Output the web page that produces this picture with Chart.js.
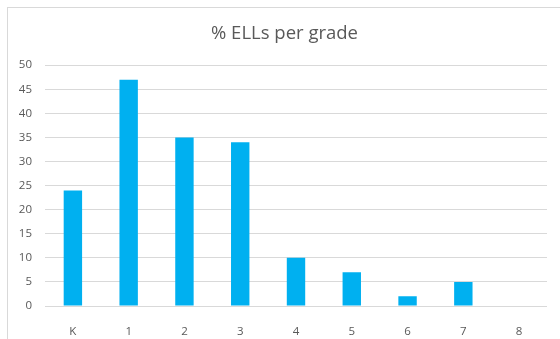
<!DOCTYPE html>
<html>
<head>
<meta charset="utf-8">
<script src="https://cdn.jsdelivr.net/npm/chart.js@4/dist/chart.umd.min.js"></script>
<style>
  html, body { margin: 0; padding: 0; background: #fff; }
  #wrap { position: relative; width: 560px; height: 339px; }
  #frame {
    position: absolute; left: 7px; top: 7px; right: -10px; bottom: -10px;
    border-top: 1px solid #d9d9d9; border-left: 1px solid #d9d9d9;
  }
  canvas { position: absolute; left: 0; top: 0; }
</style>
</head>
<body>
<div id="wrap">
  <div id="frame"></div>
  <canvas id="grades" width="560" height="339"></canvas>
</div>
<script>
// Grade levels and share of ELL students in each
var grades = ["K", "1", "2", "3", "4", "5", "6", "7", "8"];
var ellPercent = [24, 47, 35, 34, 10, 7, 2, 5, 0];
var yTicks = [0, 5, 10, 15, 20, 25, 30, 35, 40, 45, 50];

var textGray = "#595959";
var fontFamily = "'Open Sans', 'Noto Sans', sans-serif";

// centre the title over the whole frame rather than the layout box
var titleShift = {
  id: "titleShift",
  afterLayout: function (chart) {
    if (chart.titleBlock) {
      chart.titleBlock.left += 11;
      chart.titleBlock.right += 11;
    }
  }
};

var ctx = document.getElementById("grades");
var gradeChart = new Chart(ctx, {
  type: "bar",
  data: {
    labels: grades,
    datasets: [{
      label: "% ELLs",
      data: ellPercent,
      backgroundColor: "#00b0f0",
      borderWidth: 0,
      barPercentage: 0.33,
      categoryPercentage: 1
    }]
  },
  plugins: [titleShift],
  options: {
    responsive: false,
    animation: false,
    layout: { padding: { left: 0, right: 13, top: 0, bottom: 0 } },
    plugins: {
      legend: { display: false },
      tooltip: { enabled: false },
      title: {
        display: true,
        text: "% ELLs per grade",
        color: textGray,
        font: { family: fontFamily, size: 18.5, weight: "normal" },
        padding: { top: 23, bottom: 20 }
      }
    },
    scales: {
      x: {
        grid: { display: false },
        border: { display: false },
        ticks: {
          color: textGray,
          font: { family: fontFamily, size: 11.5 },
          padding: 11
        },
        afterFit: function (scale) { scale.height = 33; }
      },
      y: {
        min: 0,
        max: 50,
        afterBuildTicks: function (scale) {
          scale.ticks = yTicks.map(function (v) { return { value: v }; });
        },
        grid: { color: "#d9d9d9", drawTicks: false, lineWidth: 1 },
        border: { display: false },
        ticks: {
          color: textGray,
          font: { family: fontFamily, size: 11.5 },
          padding: 13
        },
        afterFit: function (scale) { scale.width = 45; }
      }
    }
  }
});
</script>
</body>
</html>
